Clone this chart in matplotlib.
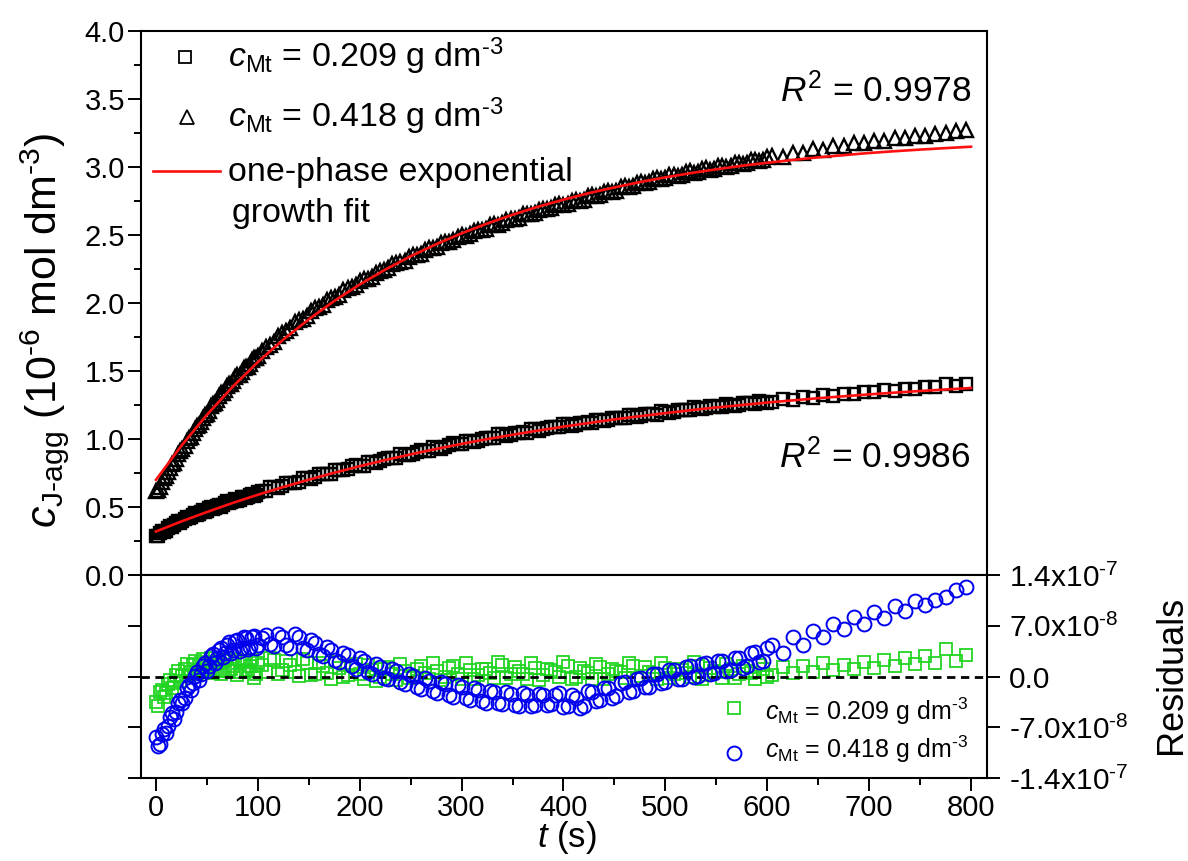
import matplotlib
matplotlib.use('Agg')
import matplotlib.pyplot as plt
import numpy as np
from matplotlib.ticker import MultipleLocator, FixedLocator, FixedFormatter, FormatStrFormatter

plt.rcParams['font.family'] = ['Liberation Sans', 'DejaVu Sans']
plt.rcParams['mathtext.fontset'] = 'custom'
plt.rcParams['mathtext.rm'] = 'Liberation Sans'
plt.rcParams['mathtext.it'] = 'Liberation Sans:italic'
plt.rcParams['mathtext.bf'] = 'Liberation Sans:bold'

# ---- sampling set 1: time (s)
T = [0, 4, 8, 12, 16, 20, 24, 28, 32, 36, 40, 44, 48, 52, 56, 60, 64, 68, 72, 76, 80, 84, 88, 92, 96, 100,
     108, 116, 124, 132, 140, 148, 156, 164, 172, 180, 188, 196, 204, 212, 220, 228, 236, 244, 252, 260,
     268, 276, 284, 292, 300, 308, 316, 324, 332, 340, 348, 356, 364, 372, 380, 388, 396, 404, 412, 420,
     428, 436, 444, 452, 460, 468, 476, 484, 492, 500, 508, 516, 524, 532, 540, 548, 556, 564, 572, 580,
     588, 596,
     605, 615, 625, 635, 645, 655, 665, 675, 685, 695, 705, 715, 725, 735, 745, 755, 765, 775, 785, 795]

# c_J-agg (10^-6 mol dm^-3), c_Mt = 0.418 g dm^-3 (triangles)
C_HIGH = [0.616, 0.649, 0.711, 0.756, 0.814, 0.854, 0.910, 0.951, 1.005, 1.045, 1.096, 1.128, 1.179, 1.209,
          1.260, 1.287, 1.335, 1.359, 1.405, 1.425, 1.470, 1.489, 1.533, 1.550, 1.593, 1.609,
          1.677, 1.716, 1.779, 1.814, 1.878, 1.905, 1.960, 1.985, 2.037, 2.060, 2.109, 2.129, 2.176, 2.194,
          2.237, 2.254, 2.297, 2.310, 2.352, 2.363, 2.403, 2.413, 2.452, 2.460, 2.497, 2.504, 2.540, 2.546,
          2.581, 2.586, 2.620, 2.624, 2.658, 2.662, 2.693, 2.698, 2.729, 2.727, 2.754, 2.759, 2.792, 2.794,
          2.825, 2.827, 2.858, 2.859, 2.889, 2.888, 2.917, 2.917, 2.943, 2.941, 2.968, 2.964, 2.990, 2.986,
          3.011, 3.007, 3.032, 3.028, 3.055, 3.050,
          3.079, 3.077, 3.106, 3.104, 3.130, 3.128, 3.154, 3.152, 3.176, 3.173, 3.194, 3.192, 3.213, 3.211,
          3.230, 3.229, 3.240, 3.248, 3.264, 3.271]

# c_J-agg (10^-6 mol dm^-3), c_Mt = 0.209 g dm^-3 (squares)
C_LOW = [0.285, 0.310, 0.316, 0.346, 0.352, 0.382, 0.385, 0.413, 0.416, 0.441, 0.440, 0.466, 0.464, 0.489,
         0.484, 0.508, 0.503, 0.532, 0.528, 0.546, 0.543, 0.573, 0.569, 0.585, 0.578, 0.609,
         0.615, 0.650, 0.654, 0.679, 0.681, 0.715, 0.718, 0.745, 0.743, 0.774, 0.780, 0.810, 0.803, 0.831,
         0.836, 0.863, 0.859, 0.885, 0.891, 0.917, 0.913, 0.935, 0.940, 0.967, 0.960, 0.984, 0.988, 1.008,
         1.006, 1.035, 1.032, 1.047, 1.045, 1.071, 1.070, 1.087, 1.086, 1.110, 1.104, 1.120, 1.118, 1.143,
         1.141, 1.154, 1.152, 1.176, 1.170, 1.182, 1.180, 1.202, 1.201, 1.213, 1.210, 1.231, 1.226, 1.237,
         1.234, 1.253, 1.251, 1.262, 1.256, 1.275,
         1.273, 1.291, 1.289, 1.306, 1.303, 1.321, 1.318, 1.330, 1.331, 1.345, 1.343, 1.359, 1.355, 1.371,
         1.368, 1.383, 1.379, 1.402, 1.391, 1.402]

# residuals (units of 1e-8 mol dm^-3)
RES_HIGH = [-8.4, -9.3, -7.2, -6.8, -5.0, -4.9, -3.2, -2.9, -1.2, -0.9, 0.6, 0.3, 1.9, 1.4, 3.1, 2.5, 4.0, 3.2,
            4.7, 3.6, 5.0, 3.9, 5.3, 4.1, 5.6, 4.3,
            5.7, 4.2, 5.4, 3.9, 5.5, 3.6, 4.6, 2.8, 3.7, 2.0, 2.9, 1.1, 2.2, 0.4, 1.3, -0.4, 0.7, -1.1, 0.1,
            -1.7, -0.6, -2.3, -1.0, -2.8, -1.5, -3.2, -1.9, -3.6, -2.2, -3.8, -2.4, -4.0, -2.5, -3.9, -2.6,
            -3.8, -2.3, -4.1, -3.0, -4.0, -2.1, -3.3, -1.6, -2.7, -0.8, -2.0, -0.2, -1.4, 0.4, -0.7, 0.9, -0.3,
            1.4, 0.1, 1.8, 0.5, 2.1, 0.9, 2.6, 1.5, 3.4, 2.2,
            4.3, 3.3, 5.4, 4.4, 6.3, 5.4, 7.3, 6.5, 8.2, 7.3, 8.9, 8.1, 9.7, 9.0, 10.4, 9.8, 10.5, 10.9, 12.0, 12.4]

RES_LOW = [-3.5, -2.2, -2.8, -1.0, -1.6, 0.2, -0.6, 1.1, 0.2, 1.6, 0.4, 1.9, 0.6, 2.0, 0.5, 1.8, 0.3, 2.1,
           0.7, 1.5, 0.2, 2.2, 0.8, 1.4, -0.2, 1.9,
           0.6, 2.3, 0.9, 1.6, 0.1, 1.8, 0.4, 1.5, -0.3, 1.2, 0.2, 1.7, -0.4, 0.9, 0.0, 1.3, -0.5, 0.8, 0.1,
           1.4, -0.3, 0.7, 0.0, 1.5, -0.4, 0.9, 0.2, 1.1, -0.2, 1.6, 0.3, 0.8, -0.4, 1.2, 0.2, 0.9, -0.1, 1.4,
           0.0, 0.7, -0.4, 1.3, 0.3, 0.8, -0.2, 1.5, 0.1, 0.6, -0.3, 1.2, 0.4, 0.9, -0.1, 1.4, 0.2, 0.7, -0.2,
           1.1, 0.3, 0.8, -0.3, 1.0,
           0.2, 1.3, 0.5, 1.5, 0.6, 1.8, 0.9, 1.6, 1.1, 2.0, 1.2, 2.3, 1.4, 2.5, 1.7, 2.8, 1.9, 3.8, 2.2, 2.9]

# ---- sampling set 2 (interleaved readings): time (s)
T2 = [2, 6, 10, 14, 18, 22, 26, 30, 34, 38, 42, 46, 50, 54, 58, 62, 66, 70, 74, 78, 82, 86, 90, 94, 98, 104,
      112, 120, 128, 136, 144, 152, 160, 168, 176, 184, 192, 200, 208, 216, 224, 232, 240, 248, 256, 264,
      272, 280, 288, 296, 304, 312, 320, 328, 336, 344, 352, 360, 368, 376, 384, 392, 400, 408, 416, 424,
      432, 440, 448, 456, 464, 472, 480, 488, 496, 504, 512, 520, 528, 536, 544, 552, 560, 568, 576, 584,
      592, 600]

C_HIGH2 = [0.625, 0.684, 0.726, 0.788, 0.826, 0.887, 0.924, 0.983, 1.017, 1.073, 1.103, 1.158, 1.186, 1.240,
           1.265, 1.315, 1.338, 1.387, 1.406, 1.454, 1.470, 1.519, 1.533, 1.578, 1.592, 1.646,
           1.692, 1.759, 1.793, 1.857, 1.885, 1.942, 1.967, 2.020, 2.043, 2.092, 2.114, 2.161, 2.178, 2.224,
           2.239, 2.284, 2.298, 2.340, 2.352, 2.393, 2.403, 2.441, 2.449, 2.488, 2.494, 2.532, 2.537, 2.573,
           2.577, 2.612, 2.615, 2.651, 2.651, 2.686, 2.689, 2.719, 2.718, 2.750, 2.749, 2.786, 2.786, 2.818,
           2.819, 2.851, 2.851, 2.882, 2.882, 2.911, 2.910, 2.938, 2.935, 2.962, 2.958, 2.985, 2.980, 3.007,
           3.001, 3.027, 3.022, 3.049, 3.045, 3.070]

C_LOW2 = [0.286, 0.320, 0.327, 0.357, 0.365, 0.394, 0.398, 0.425, 0.426, 0.453, 0.451, 0.477, 0.471, 0.499,
          0.494, 0.518, 0.514, 0.542, 0.537, 0.560, 0.552, 0.576, 0.575, 0.599, 0.589, 0.616,
          0.644, 0.639, 0.675, 0.678, 0.713, 0.708, 0.741, 0.743, 0.774, 0.769, 0.800, 0.803, 0.831, 0.823,
          0.853, 0.861, 0.888, 0.882, 0.908, 0.915, 0.941, 0.929, 0.958, 0.961, 0.988, 0.978, 1.002, 1.008,
          1.034, 1.022, 1.047, 1.048, 1.072, 1.059, 1.084, 1.089, 1.112, 1.097, 1.121, 1.123, 1.143, 1.130,
          1.152, 1.156, 1.177, 1.162, 1.186, 1.184, 1.205, 1.192, 1.212, 1.213, 1.234, 1.217, 1.239, 1.239,
          1.256, 1.243, 1.265, 1.262, 1.278, 1.268]

RES_HIGH2 = [-9.6, -7.9, -7.8, -5.6, -5.8, -3.6, -3.7, -1.6, -1.9, 0.1, -0.5, 1.5, 0.8, 2.8, 1.9, 3.6, 2.7,
             4.4, 3.2, 4.9, 3.5, 5.4, 3.8, 5.5, 4.0, 5.3,
             4.5, 5.9, 4.3, 5.8, 3.9, 5.0, 3.1, 4.1, 2.3, 3.2, 1.5, 2.5, 0.6, 1.7, -0.2, 1.0, -0.8, 0.4, -1.4,
             -0.2, -2.0, -0.8, -2.6, -1.2, -3.0, -1.6, -3.4, -2.0, -3.7, -2.2, -3.9, -2.3, -4.1, -2.4, -3.9,
             -2.5, -4.2, -2.6, -4.3, -2.0, -3.4, -1.6, -2.9, -0.9, -2.2, -0.3, -1.5, 0.3, -0.9, 0.9, -0.4, 1.3,
             -0.1, 1.7, 0.3, 2.1, 0.7, 2.5, 1.2, 3.2, 2.0, 3.9]

RES_LOW2 = [-4.0, -1.8, -2.3, -0.5, -0.9, 0.8, 0.1, 1.7, 0.6, 2.2, 0.9, 2.4, 0.7, 2.5, 0.9, 2.3, 0.8, 2.6,
            1.1, 2.4, 0.6, 2.0, 0.9, 2.3, 0.4, 1.6,
            2.6, 0.3, 2.1, 0.6, 2.4, 0.2, 1.9, 0.5, 2.0, -0.1, 1.4, 0.3, 1.6, -0.6, 1.0, 0.4, 1.7, -0.2, 1.1,
            0.5, 1.9, -0.5, 1.2, 0.3, 1.8, -0.3, 1.0, 0.5, 2.0, -0.2, 1.3, 0.4, 1.8, -0.5, 1.1, 0.6, 2.0, -0.3,
            1.2, 0.5, 1.7, -0.4, 1.0, 0.6, 1.9, -0.3, 1.3, 0.4, 1.8, -0.2, 1.1, 0.5, 2.0, -0.4, 1.2, 0.6, 1.7,
            -0.2, 1.4, 0.5, 1.6, 0.0]

RES_UNIT = 1e-8

# ---- fitted curves (one-phase exponential growth)
FIT_T = [0, 25, 50, 75, 100, 125, 150, 175, 200, 225, 250, 275, 300, 325, 350, 375, 400, 425, 450, 475,
         500, 525, 550, 575, 600, 625, 650, 675, 700, 725, 750, 775, 800]
FIT_HIGH = [0.700, 0.951, 1.178, 1.382, 1.566, 1.731, 1.880, 2.015, 2.136, 2.245, 2.344, 2.432, 2.512, 2.584,
            2.649, 2.708, 2.760, 2.808, 2.850, 2.889, 2.924, 2.955, 2.983, 3.009, 3.031, 3.052, 3.071, 3.087,
            3.103, 3.116, 3.128, 3.139, 3.149]
FIT_LOW = [0.320, 0.394, 0.463, 0.529, 0.590, 0.647, 0.701, 0.752, 0.800, 0.845, 0.887, 0.927, 0.964, 0.999,
           1.031, 1.062, 1.091, 1.118, 1.144, 1.168, 1.190, 1.212, 1.232, 1.250, 1.268, 1.284, 1.300, 1.314,
           1.328, 1.341, 1.353, 1.364, 1.375]

RES_TICKS = [-1.4e-7, -7.0e-8, 0.0, 7.0e-8, 1.4e-7]
RES_TICK_LABELS = [r'-1.4x10$^{\text{-7}}$', r'-7.0x10$^{\text{-8}}$', '0.0',
                   r'7.0x10$^{\text{-8}}$', r'1.4x10$^{\text{-7}}$']

LEG_LOW = r'$c_{\mathrm{Mt}}$ = 0.209 g dm$^{\text{-3}}$'
LEG_HIGH = r'$c_{\mathrm{Mt}}$ = 0.418 g dm$^{\text{-3}}$'

W, H = 1188, 861
fig = plt.figure(figsize=(W / 100, H / 100), dpi=100)


def px_axes(l, t, r, b):
    return [l / W, 1 - b / H, (r - l) / W, (b - t) / H]


ax = fig.add_axes(px_axes(141, 31, 987, 575))
ax2 = fig.add_axes(px_axes(141, 575, 987, 778), sharex=ax)

GREEN = '#22d422'
BLUE = '#0000ee'
RED = '#ff1010'

sq = dict(ls='none', marker='s', ms=8, mfc='none', mec='black', mew=1.3)
tri = dict(ls='none', marker='^', ms=10, mfc='none', mec='black', mew=1.3)
sq_d = dict(sq, mew=1.7)
tri_d = dict(tri, mew=1.7)

# upper panel
ax.plot(T, C_LOW, **sq_d)
ax.plot(T2, C_LOW2, **sq_d)
ax.plot(T, C_HIGH, **tri_d)
ax.plot(T2, C_HIGH2, **tri_d)
ax.plot(FIT_T, FIT_LOW, color=RED, lw=1.9)
ax.plot(FIT_T, FIT_HIGH, color=RED, lw=1.9)

ax.set_xlim(-14.7, 815.7)
ax.set_ylim(0, 4)
ax.yaxis.set_major_locator(MultipleLocator(0.5))
ax.yaxis.set_minor_locator(MultipleLocator(0.25))
ax.yaxis.set_major_formatter(FormatStrFormatter('%.1f'))
ax.tick_params(axis='y', which='major', direction='out', length=9.5, width=1.4, labelsize=21, pad=2,
               left=True, right=False)
ax.tick_params(axis='y', which='minor', direction='out', length=5, width=1.4, left=True, right=False)
ax.tick_params(axis='x', which='both', bottom=False, top=False, labelbottom=False)
for s in ax.spines.values():
    s.set_linewidth(1.5)

ax.set_ylabel(r'$c_{\mathrm{J\text{-}agg}}$ (10$^{\text{-6}}$ mol dm$^{\text{-3}}$)', fontsize=31, va='center')
ax.yaxis.set_label_coords((45 - 141) / 846, 1 - (330 - 31) / 544)

# legend (upper)
tA = ax.transAxes
ax.plot([0.052], [0.952], transform=tA, clip_on=False, **sq)
ax.text(0.103, 0.934, LEG_LOW, fontsize=24.5, transform=tA, va='baseline')
ax.plot([0.0544], [0.842], transform=tA, clip_on=False, **tri)
ax.text(0.103, 0.8235, LEG_HIGH, fontsize=24.5, transform=tA, va='baseline')
ax.plot([0.0142, 0.0934], [0.743, 0.743], color=RED, lw=1.9, transform=tA)
ax.text(0.103, 0.724, 'one-phase exponential', fontsize=24.5, transform=tA, va='baseline')
ax.text(0.1076, 0.649, 'growth fit', fontsize=24.5, transform=tA, va='baseline')

ax.text(0.982, 0.8695, r'$R^2$ = 0.9978', fontsize=25.5, transform=tA, ha='right', va='baseline')
ax.text(0.980, 0.1967, r'$R^2$ = 0.9986', fontsize=25.5, transform=tA, ha='right', va='baseline')

# lower panel (residuals)
gsq = dict(ls='none', marker='s', ms=8, mfc='none', mec=GREEN, mew=1.3, zorder=2)
bci = dict(ls='none', marker='o', ms=10, mfc='none', mec=BLUE, mew=1.4, zorder=3)
ax2.plot(T, np.array(RES_LOW) * RES_UNIT, **gsq)
ax2.plot(T2, np.array(RES_LOW2) * RES_UNIT, **gsq)
ax2.axhline(0, color='black', lw=2, ls=(0, (3, 2)), zorder=2.5)
ax2.plot(T, np.array(RES_HIGH) * RES_UNIT, **bci)
ax2.plot(T2, np.array(RES_HIGH2) * RES_UNIT, **bci)

ax2.set_ylim(-1.4e-7, 1.4e-7)
ax2.yaxis.set_major_locator(FixedLocator(RES_TICKS))
ax2.yaxis.set_major_formatter(FixedFormatter(RES_TICK_LABELS))
ax2.tick_params(axis='y', which='major', direction='out', length=9.5, width=1.4, labelsize=21.5, pad=6,
                left=True, right=True, labelleft=False, labelright=True)
ax2.xaxis.set_major_locator(MultipleLocator(100))
ax2.xaxis.set_minor_locator(MultipleLocator(50))
ax2.tick_params(axis='x', which='major', direction='out', length=9.5, width=1.4, labelsize=21, pad=2,
                bottom=True, top=False)
ax2.tick_params(axis='x', which='minor', direction='out', length=5, width=1.4, bottom=True, top=False)
for s in ax2.spines.values():
    s.set_linewidth(1.5)

ax2.set_xlabel(r'$t$ (s)', fontsize=25, va='center')
ax2.xaxis.set_label_coords((567 - 141) / 846, (778 - 838) / 203)
ax2.yaxis.set_label_position('right')
ax2.set_ylabel('Residuals', fontsize=26, va='center', rotation=90)
ax2.yaxis.set_label_coords((1172 - 141) / 846, (778 - 675) / 203)

# legend (lower)
tB = ax2.transAxes
ax2.plot([0.701], [0.345], transform=tB, clip_on=False, **gsq)
ax2.text(0.7376, 0.286, LEG_LOW, fontsize=18, transform=tB, va='baseline')
ax2.plot([0.701], [0.123], transform=tB, clip_on=False, **bci)
ax2.text(0.7376, 0.0985, LEG_HIGH, fontsize=18, transform=tB, va='baseline')

fig.savefig('out.png', dpi=100)
